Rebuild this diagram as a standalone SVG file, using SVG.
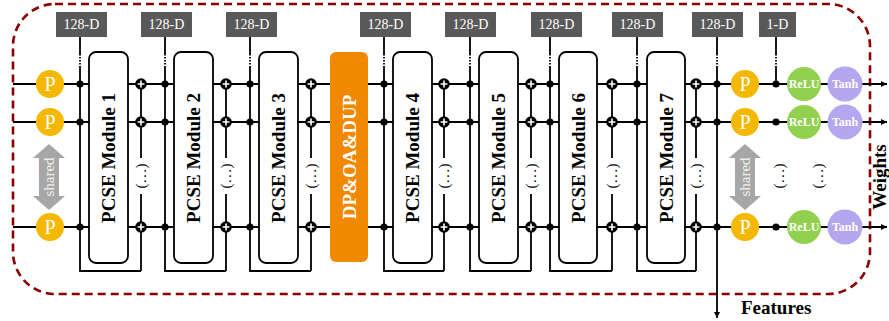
<svg xmlns="http://www.w3.org/2000/svg" width="889" height="321" viewBox="0 0 889 321">
<style>
.ln{stroke:#000;stroke-width:1.8;fill:none}
.dt{stroke:#000;stroke-width:1.8;fill:none;stroke-dasharray:1.6 1.4}
.box{fill:#fff;stroke:#000;stroke-width:1.8}
.lab{fill:#595959}
.labt{font-family:"Liberation Serif",serif;font-size:14px;fill:#fff;text-anchor:middle;dominant-baseline:central}
.mt{font-family:"Liberation Serif",serif;font-size:19px;font-weight:bold;fill:#000;text-anchor:middle;dominant-baseline:central}
.pc{fill:#F5B800}
.pt{font-family:"Liberation Serif",serif;font-size:20px;fill:#fff;text-anchor:middle;dominant-baseline:central}
.relu{fill:#92D050}
.tanh{fill:#B4A7F0}
.at{font-family:"Liberation Serif",serif;font-size:12px;font-weight:bold;fill:#fff;text-anchor:middle;dominant-baseline:central}
.el{font-family:"Liberation Serif",serif;font-size:15px;fill:#000;text-anchor:middle;dominant-baseline:central}
.dot{fill:#000}
.sh{fill:#A6A6A6}
.sht{font-family:"Liberation Serif",serif;font-size:15px;fill:#F2F2F2;text-anchor:middle;dominant-baseline:central}
</style>
<defs>
<g id="plus"><circle r="5.8" fill="#000"/><path d="M-3.4 0H3.4M0 -3.4V3.4" stroke="#fff" stroke-width="1.6"/></g>
<marker id="ah" viewBox="0 0 10 10" refX="10" refY="5" markerWidth="6" markerHeight="6" markerUnits="userSpaceOnUse" orient="auto"><path d="M0 0L10 5L0 10z" fill="#000"/></marker>
</defs>

<!-- boundary -->
<rect x="13" y="4" width="857" height="290" rx="42" ry="42" fill="none" stroke="#8B0000" stroke-width="2.6" stroke-dasharray="8 5"/>

<g id="connectors">
  <!-- rows -->
  <line class="ln" x1="13" y1="84" x2="887" y2="84" marker-end="url(#ah)"/>
  <line class="ln" x1="13" y1="122" x2="887" y2="122" marker-end="url(#ah)"/>
  <line class="ln" x1="13" y1="227" x2="887" y2="227" marker-end="url(#ah)"/>
  <!-- junction verticals -->
  <g>
    <path class="ln" d="M80 37V54M80 67V271H141M141 84V158M141 194V271"/>
    <path class="dt" d="M80 54V67"/>
    <path class="ln" d="M165 37V54M165 67V271H226M226 84V158M226 194V271"/>
    <path class="dt" d="M165 54V67"/>
    <path class="ln" d="M250 37V54M250 67V271H311M311 84V158M311 194V271"/>
    <path class="dt" d="M250 54V67"/>
    <path class="ln" d="M384 37V54M384 67V271H444M444 84V158M444 194V271"/>
    <path class="dt" d="M384 54V67"/>
    <path class="ln" d="M470 37V54M470 67V271H531M531 84V158M531 194V271"/>
    <path class="dt" d="M470 54V67"/>
    <path class="ln" d="M550 37V54M550 67V271H612M612 84V158M612 194V271"/>
    <path class="dt" d="M550 54V67"/>
    <path class="ln" d="M637 37V54M637 67V271H696M696 84V158M696 194V271"/>
    <path class="dt" d="M637 54V67"/>
    <path class="ln" d="M717 37V54M717 67V318" marker-end="url(#ah)"/>
    <path class="dt" d="M717 54V67"/>
    <path class="ln" d="M776 37V54M776 67V84"/>
    <path class="dt" d="M776 54V67"/>
  </g>
  <!-- ellipses on skip lines -->
  <g>
    <text class="el" transform="translate(141,176) rotate(-90)">(…)</text>
    <text class="el" transform="translate(226,176) rotate(-90)">(…)</text>
    <text class="el" transform="translate(311,176) rotate(-90)">(…)</text>
    <text class="el" transform="translate(444,176) rotate(-90)">(…)</text>
    <text class="el" transform="translate(531,176) rotate(-90)">(…)</text>
    <text class="el" transform="translate(612,176) rotate(-90)">(…)</text>
    <text class="el" transform="translate(696,176) rotate(-90)">(…)</text>
    <text class="el" transform="translate(779,176) rotate(-90)">(…)</text>
    <text class="el" transform="translate(818,176) rotate(-90)">(…)</text>
  </g>
  <!-- junction dots -->
  <g class="dot">
    <circle cx="80" cy="84" r="3.6"/><circle cx="80" cy="122" r="3.6"/><circle cx="80" cy="227" r="3.6"/>
    <circle cx="165" cy="84" r="3.6"/><circle cx="165" cy="122" r="3.6"/><circle cx="165" cy="227" r="3.6"/>
    <circle cx="250" cy="84" r="3.6"/><circle cx="250" cy="122" r="3.6"/><circle cx="250" cy="227" r="3.6"/>
    <circle cx="384" cy="84" r="3.6"/><circle cx="384" cy="122" r="3.6"/><circle cx="384" cy="227" r="3.6"/>
    <circle cx="470" cy="84" r="3.6"/><circle cx="470" cy="122" r="3.6"/><circle cx="470" cy="227" r="3.6"/>
    <circle cx="550" cy="84" r="3.6"/><circle cx="550" cy="122" r="3.6"/><circle cx="550" cy="227" r="3.6"/>
    <circle cx="637" cy="84" r="3.6"/><circle cx="637" cy="122" r="3.6"/><circle cx="637" cy="227" r="3.6"/>
    <circle cx="717" cy="84" r="3.6"/><circle cx="717" cy="122" r="3.6"/><circle cx="717" cy="227" r="3.6"/>
    <circle cx="776" cy="84" r="3.6"/><circle cx="776" cy="122" r="3.6"/><circle cx="776" cy="227" r="3.6"/>
  </g>
  <!-- plus nodes -->
  <g>
    <use href="#plus" x="141" y="84"/><use href="#plus" x="141" y="122"/><use href="#plus" x="141" y="227"/>
    <use href="#plus" x="226" y="84"/><use href="#plus" x="226" y="122"/><use href="#plus" x="226" y="227"/>
    <use href="#plus" x="311" y="84"/><use href="#plus" x="311" y="122"/><use href="#plus" x="311" y="227"/>
    <use href="#plus" x="444" y="84"/><use href="#plus" x="444" y="122"/><use href="#plus" x="444" y="227"/>
    <use href="#plus" x="531" y="84"/><use href="#plus" x="531" y="122"/><use href="#plus" x="531" y="227"/>
    <use href="#plus" x="612" y="84"/><use href="#plus" x="612" y="122"/><use href="#plus" x="612" y="227"/>
    <use href="#plus" x="696" y="84"/><use href="#plus" x="696" y="122"/><use href="#plus" x="696" y="227"/>
  </g>
</g>

<!-- dimension labels -->
<g id="labels">
  <rect class="lab" x="56" y="12" width="51" height="25"/><text class="labt" x="81.5" y="24.5">128-D</text>
  <rect class="lab" x="141" y="12" width="51" height="25"/><text class="labt" x="166.5" y="24.5">128-D</text>
  <rect class="lab" x="226" y="12" width="51" height="25"/><text class="labt" x="251.5" y="24.5">128-D</text>
  <rect class="lab" x="360" y="12" width="51" height="25"/><text class="labt" x="385.5" y="24.5">128-D</text>
  <rect class="lab" x="445" y="12" width="51" height="25"/><text class="labt" x="470.5" y="24.5">128-D</text>
  <rect class="lab" x="531" y="12" width="51" height="25"/><text class="labt" x="556.5" y="24.5">128-D</text>
  <rect class="lab" x="612" y="12" width="51" height="25"/><text class="labt" x="637.5" y="24.5">128-D</text>
  <rect class="lab" x="692" y="12" width="51" height="25"/><text class="labt" x="717.5" y="24.5">128-D</text>
  <rect class="lab" x="759" y="12" width="37" height="25"/><text class="labt" x="777.5" y="24.5">1-D</text>
</g>

<!-- left projection heads -->
<g id="p-left">
  <circle class="pc" cx="50" cy="84" r="14"/><text class="pt" x="50" y="84">P</text>
  <circle class="pc" cx="50" cy="122" r="14"/><text class="pt" x="50" y="122">P</text>
  <circle class="pc" cx="50" cy="227" r="14"/><text class="pt" x="50" y="227">P</text>
  <polygon class="sh" points="49,144 65,158 59,158 59,196 65,196 49,210 33,196 39,196 39,158 33,158"/>
  <text class="sht" transform="translate(49,177) rotate(-90)">shared</text>
</g>

<g id="module1"><rect class="box" x="89" y="52" width="39" height="211" rx="7"/><text class="mt" transform="translate(108.5,158) rotate(-90)">PCSE Module 1</text></g>
<g id="module2"><rect class="box" x="174" y="52" width="39" height="211" rx="7"/><text class="mt" transform="translate(193.5,158) rotate(-90)">PCSE Module 2</text></g>
<g id="module3"><rect class="box" x="259" y="52" width="39" height="211" rx="7"/><text class="mt" transform="translate(278.5,158) rotate(-90)">PCSE Module 3</text></g>
<g id="dpoadup"><rect x="330" y="52" width="38" height="210" rx="6" fill="#F08800"/><text class="mt" style="fill:#fff" transform="translate(349,157) rotate(-90)">DP&amp;OA&amp;DUP</text></g>
<g id="module4"><rect class="box" x="393" y="52" width="39" height="211" rx="7"/><text class="mt" transform="translate(412.5,158) rotate(-90)">PCSE Module 4</text></g>
<g id="module5"><rect class="box" x="479" y="52" width="39" height="211" rx="7"/><text class="mt" transform="translate(498.5,158) rotate(-90)">PCSE Module 5</text></g>
<g id="module6"><rect class="box" x="559" y="52" width="38" height="211" rx="7"/><text class="mt" transform="translate(578,158) rotate(-90)">PCSE Module 6</text></g>
<g id="module7"><rect class="box" x="647" y="52" width="38" height="211" rx="7"/><text class="mt" transform="translate(666,158) rotate(-90)">PCSE Module 7</text></g>

<!-- right projection heads -->
<g id="p-right">
  <circle class="pc" cx="745" cy="84" r="14"/><text class="pt" x="745" y="84">P</text>
  <circle class="pc" cx="745" cy="122" r="14"/><text class="pt" x="745" y="122">P</text>
  <circle class="pc" cx="745" cy="227" r="14"/><text class="pt" x="745" y="227">P</text>
  <polygon class="sh" points="745,144 761,158 755,158 755,196 761,196 745,210 729,196 735,196 735,158 729,158"/>
  <text class="sht" transform="translate(745,177) rotate(-90)">shared</text>
</g>

<g id="relu">
  <circle class="relu" cx="804" cy="84" r="17"/><text class="at" x="804" y="84">ReLU</text>
  <circle class="relu" cx="804" cy="122" r="17"/><text class="at" x="804" y="122">ReLU</text>
  <circle class="relu" cx="804" cy="227" r="17"/><text class="at" x="804" y="227">ReLU</text>
</g>
<g id="tanh">
  <circle class="tanh" cx="845" cy="84" r="17.5"/><text class="at" x="845" y="84">Tanh</text>
  <circle class="tanh" cx="845" cy="122" r="17.5"/><text class="at" x="845" y="122">Tanh</text>
  <circle class="tanh" cx="845" cy="227" r="17.5"/><text class="at" x="845" y="227">Tanh</text>
</g>

<g id="outputs">
  <text class="mt" transform="translate(879,177) rotate(-90)">Weights</text>
  <text x="741" y="314" style="font-family:'Liberation Serif',serif;font-size:19px;font-weight:bold;fill:#000">Features</text>
</g>
</svg>
